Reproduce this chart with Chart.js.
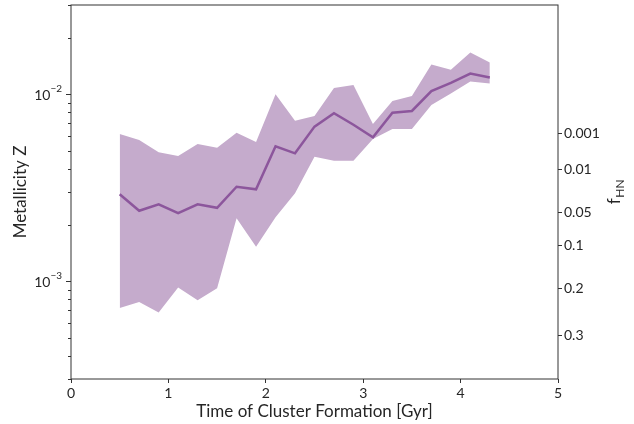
<!DOCTYPE html>
<html>
<head>
<meta charset="utf-8">
<script src="https://cdn.jsdelivr.net/npm/chart.js@4/dist/chart.umd.min.js"></script>
<style>
html,body{margin:0;padding:0;background:#fff;}
#wrap{width:634px;height:424px;}
</style>
</head>
<body>
<div id="wrap"><canvas id="c" width="634" height="424"></canvas></div>
<script>
// ---- data ----
const times = [0.5,0.7,0.9,1.1,1.3,1.5,1.7,1.9,2.1,2.3,2.5,2.7,2.9,3.1,3.3,3.5,3.7,3.9,4.1,4.3];
const meanZ = [2.92e-3,2.38e-3,2.58e-3,2.31e-3,2.58e-3,2.47e-3,3.20e-3,3.10e-3,5.27e-3,4.83e-3,6.71e-3,7.91e-3,6.87e-3,5.88e-3,7.97e-3,8.14e-3,1.04e-2,1.15e-2,1.29e-2,1.23e-2];
const upperZ = [6.13e-3,5.69e-3,4.89e-3,4.67e-3,5.42e-3,5.18e-3,6.23e-3,5.55e-3,1.00e-2,7.22e-3,7.65e-3,1.08e-2,1.12e-2,6.93e-3,9.21e-3,9.79e-3,1.44e-2,1.35e-2,1.67e-2,1.48e-2];
const lowerZ = [7.19e-4,7.75e-4,6.80e-4,9.25e-4,7.91e-4,9.17e-4,2.17e-3,1.53e-3,2.20e-3,2.95e-3,4.63e-3,4.41e-3,4.41e-3,5.76e-3,6.52e-3,6.52e-3,8.76e-3,1.01e-2,1.17e-2,1.14e-2];
// right axis: f_HN labels and the metallicity they correspond to
const fhnLabels = ['0.001','0.01','0.05','0.1','0.2','0.3'];
const fhnZ = [6.18e-3,3.94e-3,2.32e-3,1.56e-3,9.14e-4,5.14e-4];
const xTicks = [0,1,2,3,4,5];
const zMajorTicks = [1e-3,1e-2];
const zMin = 3e-4, zMax = 3e-2;

const fillColor = 'rgb(197,171,204)';
const lineColor = 'rgb(140,86,156)';
const axisColor = '#333333';
const textColor = '#262626';

Chart.defaults.font.family = 'Lato';
Chart.defaults.color = textColor;

const pts = arr => arr.map((v,i)=>({x:times[i], y:v}));

const framePlugin = {
  id:'frame',
  afterDraw(chart){
    const {ctx, chartArea:a, scales} = chart;
    ctx.save();
    ctx.strokeStyle = axisColor;
    ctx.lineWidth = 1;
    ctx.strokeRect(a.left, a.top, a.right-a.left, a.bottom-a.top);
    // minor log ticks on left axis
    const y = scales.y;
    ctx.beginPath();
    for (let k=-4;k<=-2;k++){
      for (let m=2;m<=9;m++){
        const v = m*Math.pow(10,k);
        if (v < zMin || v > zMax) continue;
        const py = Math.round(y.getPixelForValue(v))+0.5;
        ctx.moveTo(a.left-3, py); ctx.lineTo(a.left, py);
      }
    }
    ctx.stroke();
    // left axis labels 10^n with real superscripts
    ctx.fillStyle = textColor;
    ctx.textBaseline = 'middle';
    zMajorTicks.forEach(v=>{
      const py = y.getPixelForValue(v);
      const exp = '\u2212' + String(Math.abs(Math.round(Math.log10(v))));
      ctx.font = '10px Lato';
      const we = ctx.measureText(exp).width;
      const xr = a.left - 9;
      ctx.textAlign = 'right';
      ctx.fillText(exp, xr, py - 5);
      ctx.font = '14px Lato';
      ctx.fillText('10', xr - we, py + 1);
    });
    // right axis title f_HN
    const cx = a.right + 56, cy = (a.top+a.bottom)/2;
    ctx.translate(cx, cy);
    ctx.rotate(-Math.PI/2);
    ctx.textAlign = 'left';
    ctx.textBaseline = 'alphabetic';
    ctx.font = '17px Lato';
    const wf = ctx.measureText('f').width;
    ctx.font = '12px Lato';
    const ws = ctx.measureText('HN').width;
    const x0 = -(wf+ws)/2;
    ctx.font = '17px Lato';
    ctx.fillText('f', x0, 6);
    ctx.font = '12px Lato';
    ctx.fillText('HN', x0+wf+0.5, 10);
    ctx.restore();
  }
};

new Chart(document.getElementById('c'), {
  type:'line',
  data:{
    datasets:[
      {data:pts(upperZ), borderWidth:0, pointRadius:0, backgroundColor:fillColor, fill:'+1', order:2},
      {data:pts(lowerZ), borderWidth:0, pointRadius:0, backgroundColor:fillColor, fill:false, order:2},
      {data:pts(meanZ), borderColor:lineColor, borderWidth:2.5, pointRadius:0, fill:false, order:1, borderJoinStyle:'miter'}
    ]
  },
  options:{
    responsive:false,
    animation:false,
    layout:{padding:{top:5,left:0,right:0,bottom:0}},
    plugins:{legend:{display:false}, tooltip:{enabled:false}},
    scales:{
      x:{
        type:'linear', min:0, max:5,
        afterBuildTicks(s){ s.ticks = xTicks.map(v=>({value:v})); },
        afterFit(s){ s.height = 45; s.paddingLeft = 0; s.paddingRight = 0; },
        grid:{drawOnChartArea:false, drawTicks:true, tickLength:4, tickColor:axisColor},
        border:{display:false},
        ticks:{font:{size:14}, color:textColor, padding:2, maxRotation:0},
        title:{display:true, text:'Time of Cluster Formation [Gyr]', font:{size:17}, color:textColor, padding:{top:0,bottom:2}}
      },
      y:{
        type:'logarithmic', position:'left', min:zMin, max:zMax,
        afterBuildTicks(s){ s.ticks = zMajorTicks.map(v=>({value:v})); },
        afterFit(s){ s.width = 71; s.paddingTop = 0; s.paddingBottom = 0; },
        grid:{drawOnChartArea:false, drawTicks:true, tickLength:5, tickColor:axisColor},
        border:{display:false},
        ticks:{font:{size:14}, color:textColor, padding:4, callback(){ return ''; }},
        title:{display:true, text:'Metallicity Z', font:{size:17}, color:textColor, padding:{top:10,bottom:0}}
      },
      yR:{
        type:'logarithmic', position:'right', min:zMin, max:zMax,
        afterBuildTicks(s){ s.ticks = fhnZ.map(v=>({value:v})); },
        afterFit(s){ s.width = 76; s.paddingTop = 0; s.paddingBottom = 0; },
        grid:{drawOnChartArea:false, drawTicks:true, tickLength:4, tickColor:axisColor},
        border:{display:false},
        ticks:{font:{size:14}, color:textColor, padding:2,
          callback(v, i){ return fhnLabels[i]; }}
      }
    }
  },
  plugins:[framePlugin]
});
</script>
</body>
</html>
